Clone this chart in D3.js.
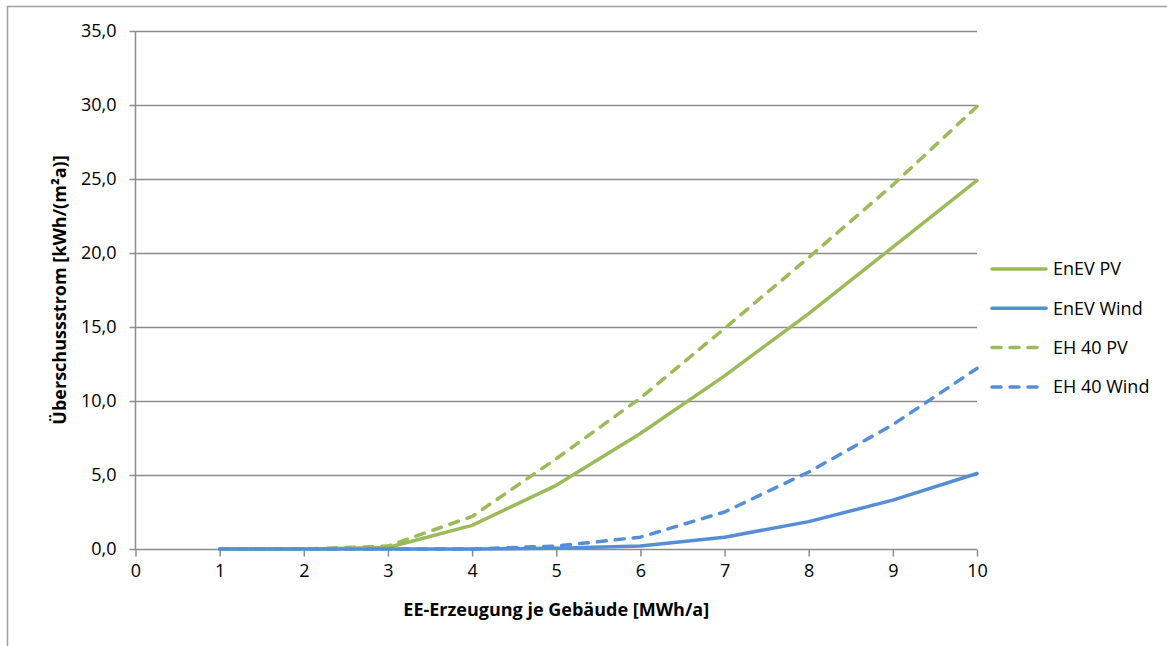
<!DOCTYPE html>
<html>
<head>
<meta charset="utf-8">
<script src="https://cdn.jsdelivr.net/npm/d3@7"></script>
<style>
  html, body { margin: 0; padding: 0; background: #fff; }
  svg { display: block; font-family: "Open Sans", Lato, sans-serif; }
</style>
</head>
<body>
<svg id="chart" width="1167" height="646"></svg>
<script>
// Annual renewable generation per building [MWh/a]
const generation = [1, 2, 3, 4, 5, 6, 7, 8, 9, 10];

// Surplus electricity [kWh/(m²a)] per scenario
const enevPV   = [0.0, 0.0, 0.1, 1.6, 4.3, 7.8, 11.7, 15.9, 20.4, 24.9];
const enevWind = [0.0, 0.0, 0.0, 0.0, 0.05, 0.2, 0.8, 1.85, 3.3, 5.1];
const eh40PV   = [0.0, 0.0, 0.2, 2.2, 6.1, 10.2, 14.9, 19.7, 24.6, 29.9];
const eh40Wind = [0.0, 0.0, 0.0, 0.0, 0.2, 0.8, 2.5, 5.2, 8.4, 12.2];

const seriesNames = ["EnEV PV", "EnEV Wind", "EH 40 PV", "EH 40 Wind"];
const xTicks = [0, 1, 2, 3, 4, 5, 6, 7, 8, 9, 10];
const yTicks = [0, 5, 10, 15, 20, 25, 30, 35];

const GREEN = "#9bbb59";
const BLUE = "#558ed5";
const FONT_SIZE = "18px";

const series = [
  { name: seriesNames[0], values: enevPV,   color: GREEN, dashed: false },
  { name: seriesNames[1], values: enevWind, color: BLUE,  dashed: false },
  { name: seriesNames[2], values: eh40PV,   color: GREEN, dashed: true },
  { name: seriesNames[3], values: eh40Wind, color: BLUE,  dashed: true }
];

const svg = d3.select("#chart");

// outer chart frame (left and top edges visible)
svg.append("path")
  .attr("d", "M7.5,646 L7.5,6.5 L1167,6.5")
  .attr("fill", "none")
  .attr("stroke", "#a0a0a0")
  .attr("stroke-width", 1.5);

const plot = { left: 135.5, right: 977, top: 31, bottom: 549 };

const x = d3.scaleLinear().domain([0, 10]).range([plot.left, plot.right]);
const y = d3.scaleLinear().domain([0, 35]).range([plot.bottom, plot.top]);

const fmt = d => d3.format(".1f")(d).replace(".", ",");

// horizontal gridlines
svg.append("g")
  .selectAll("line")
  .data(yTicks.filter(d => d > 0))
  .join("line")
  .attr("x1", plot.left).attr("x2", plot.right)
  .attr("y1", d => Math.round(y(d)) + 0.5).attr("y2", d => Math.round(y(d)) + 0.5)
  .attr("stroke", "#8c8c8c")
  .attr("stroke-width", 1.3);

// y axis
const yAxis = svg.append("g")
  .attr("transform", `translate(${plot.left},0)`)
  .call(d3.axisLeft(y).tickValues(yTicks).tickFormat(fmt).tickSize(6).tickPadding(13));

// x axis
const xAxis = svg.append("g")
  .attr("transform", `translate(0,${plot.bottom + 0.5})`)
  .call(d3.axisBottom(x).tickValues(xTicks).tickFormat(d3.format("d")).tickSize(7).tickPadding(8));

[yAxis, xAxis].forEach(g => {
  g.select(".domain").attr("stroke", "#8c8c8c").attr("stroke-width", 1.5);
  g.selectAll(".tick line").attr("stroke", "#8c8c8c").attr("stroke-width", 1.5);
  g.selectAll(".tick text")
    .attr("fill", "#000")
    .style("font-size", FONT_SIZE)
    .style("font-family", "'Open Sans', Lato, sans-serif");
});
yAxis.select(".domain").attr("d", `M0,${plot.bottom + 0.5}V${plot.top}`);
xAxis.select(".domain").attr("d", `M${plot.left},0H${plot.right}`);

// axis titles
svg.append("text")
  .attr("x", (plot.left + plot.right) / 2)
  .attr("y", 616)
  .attr("text-anchor", "middle")
  .style("font-size", FONT_SIZE)
  .style("font-weight", "bold")
  .text("EE-Erzeugung je Gebäude [MWh/a]");

svg.append("text")
  .attr("transform", `translate(66,${(plot.top + plot.bottom) / 2}) rotate(-90)`)
  .attr("text-anchor", "middle")
  .style("font-size", FONT_SIZE)
  .style("font-weight", "bold")
  .text("Überschussstrom [kWh/(m²a)]");

// series lines
const line = d3.line()
  .x((d, i) => x(generation[i]))
  .y(d => y(d));

svg.append("g")
  .selectAll("path")
  .data(series)
  .join("path")
  .attr("d", d => line(d.values))
  .attr("fill", "none")
  .attr("stroke", d => d.color)
  .attr("stroke-width", 3.5)
  .attr("stroke-linejoin", "round")
  .attr("stroke-linecap", "round")
  .attr("stroke-dasharray", d => d.dashed ? "9,9" : null);

// legend
const legend = svg.append("g")
  .selectAll("g")
  .data(series)
  .join("g")
  .attr("transform", (d, i) => `translate(0,${269 + i * 39.3})`);

legend.append("line")
  .attr("x1", 992).attr("x2", 1046)
  .attr("y1", 0).attr("y2", 0)
  .attr("stroke", d => d.color)
  .attr("stroke-width", 3.5)
  .attr("stroke-linecap", "round")
  .attr("stroke-dasharray", d => d.dashed ? "9,9" : null);

legend.append("text")
  .attr("x", 1053)
  .attr("y", 0)
  .attr("dy", "0.35em")
  .style("font-size", FONT_SIZE)
  .text(d => d.name);
</script>
</body>
</html>
